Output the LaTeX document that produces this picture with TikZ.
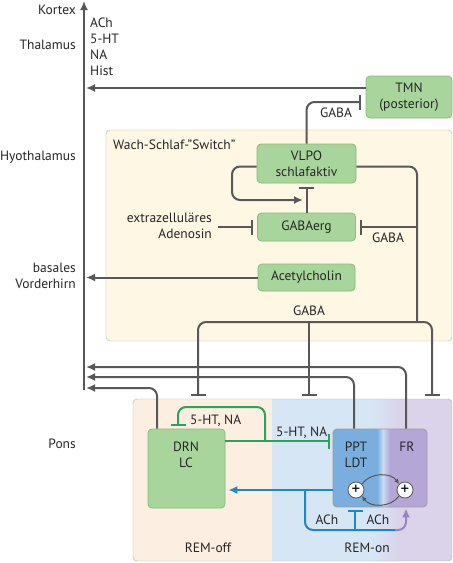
\documentclass[tikz,border=0pt]{standalone}
\usepackage{fontspec}
\setmainfont{PT Sans}
\usetikzlibrary{arrows.meta,positioning,calc}

\definecolor{linegray}{HTML}{58585A}
\definecolor{framegray}{HTML}{B5B0A8}
\definecolor{boxgreen}{HTML}{A8D59C}
\definecolor{boxgreenline}{HTML}{88BB7C}
\definecolor{switchbg}{HTML}{FDF7E4}
\definecolor{offbg}{HTML}{FDEEE2}
\definecolor{onbg}{HTML}{D6E6F5}
\definecolor{frbg}{HTML}{DAD3EA}
\definecolor{pptblue}{HTML}{79AEDF}
\definecolor{pptlight}{HTML}{C9DCF0}
\definecolor{frpurple}{HTML}{B4A6D6}
\definecolor{serotgreen}{HTML}{2BA35A}
\definecolor{achblue}{HTML}{1E87C8}
\definecolor{achpurple}{HTML}{9684C6}

\tikzset{
  lbl/.style={font=\fontsize{13.5}{16}\selectfont, inner sep=0pt, text=black!85},
  nucleus/.style={lbl, draw=boxgreenline, fill=boxgreen, rounded corners=4pt,
    align=center, line width=0.8pt},
  axon/.style={draw=linegray, line width=2pt, rounded corners=8pt},
  excite/.style={axon, -{Latex[length=9pt,width=8pt]}},
  inhib/.style={axon, -{Bar[width=15pt,line width=2pt]}},
  serotinhib/.style={inhib, draw=serotgreen},
  achexcite/.style={excite, draw=achblue},
  achinhib/.style={inhib, draw=achblue},
  plusnode/.style={circle, draw=linegray, fill=white, line width=0.8pt,
    inner sep=0pt, minimum size=16pt, font=\fontsize{17}{17}\selectfont}
}

\begin{document}
\begin{tikzpicture}[x=1pt,y=-1pt]
\useasboundingbox (0,0) rectangle (453,563);

  % background areas
  \draw[framegray, fill=switchbg, rounded corners=4pt] (106,130) rectangle (452,341);

  \begin{scope}
    \clip[rounded corners=4pt] (133,399) rectangle (452,561);
    \fill[offbg] (133,399) rectangle (272,561);
    \fill[onbg] (272,399) rectangle (372,561);
    \shade[left color=onbg, right color=frbg] (372,399) rectangle (400,561);
    \fill[frbg] (400,399) rectangle (452,561);
  \end{scope}
  \draw[framegray, rounded corners=4pt] (133,399) rectangle (452,561);

  \begin{scope}
    \clip[rounded corners=4pt] (333,429) rectangle (427,507);
    \fill[pptblue] (333,429) rectangle (377,507);
    \shade[left color=pptblue, right color=pptlight] (377,429) rectangle (383,507);
    \shade[left color=pptlight, right color=frpurple] (383,429) rectangle (390,507);
    \fill[frpurple] (390,429) rectangle (427,507);
  \end{scope}

  % regions on the left
  \node[lbl, anchor=east] (kortex) at (76,10) {Kortex};
  \node[lbl, anchor=east] (thalamus) at (76,45) {Thalamus};
  \node[lbl, anchor=east] (hypo) at (76,157) {Hyothalamus};
  \node[lbl, anchor=east, align=right] (basal) at (76,276) {basales\\Vorderhirn};
  \node[lbl, anchor=east] (pons) at (76,444) {Pons};
  \node[lbl, anchor=west, align=left] (transmitter) at (90,47) {ACh\\5-HT\\NA\\Hist};

  \node[lbl, anchor=west] (switch) at (113,145) {Wach-Schlaf-"Switch”};
  \node[lbl] (remoff) at (208,548) {REM-off};
  \node[lbl] (remon) at (367,548) {REM-on};

  % nuclei
  \node[nucleus, minimum width=86pt, minimum height=42pt] (tmn) at (409,97) {TMN\\(posterior)};
  \node[nucleus, minimum width=99pt, minimum height=39pt] (vlpo) at (306.5,163.5) {VLPO\\schlafaktiv};
  \node[nucleus, minimum width=98pt, minimum height=28pt] (gabaerg) at (306.5,227) {GABAerg};
  \node[nucleus, minimum width=97pt, minimum height=27pt] (achbox) at (306.5,277.5) {Acetylcholin};
  \node[nucleus, minimum width=77pt, minimum height=79pt] (drn) at (186.5,468.5) {};
  \node[lbl, align=center] (drntext) at (186,455) {DRN\\LC};
  \node[draw=linegray!60, rounded corners=4pt, line width=0.8pt,
        minimum width=94pt, minimum height=78pt] (ppt) at (380,468) {};
  \node[lbl, align=center] (ppttext) at (356,455) {PPT\\LDT};
  \node[lbl] (frtext) at (407,447) {FR};
  \node[plusnode] (plusl) at (356,490) {+};
  \node[plusnode] (plusr) at (405,490) {+};

  \draw[linegray, line width=1pt, -{Latex[length=5pt,width=5pt]}]
    (plusl.north east) to[bend left=55] (plusr.north west);
  \draw[linegray, line width=1pt, -{Latex[length=5pt,width=5pt]}]
    (plusr.south west) to[bend left=55] (plusl.south east);

  % ascending axis
  \coordinate (axbot) at (84,390);
  \coordinate (axtop) at (84,1);
  \coordinate (axin) at (86,0);
  \draw[excite] (axbot) -- (axtop);

  \coordinate (tmnout) at ([yshift=9pt]tmn.west);
  \draw[excite] (tmnout) -- (tmnout -| axin);
  \draw[excite] (achbox.west) -- (achbox.west -| axin);

  % switch
  \coordinate (tmnin) at ([xshift=-5pt,yshift=-5pt]tmn.west);
  \draw[inhib] (vlpo.north) |- (tmnin);
  \node[lbl] (gabatmn) at (336,113) {GABA};

  \coordinate (vlpoout) at ([yshift=-3pt]vlpo.west);
  \draw[excite] (vlpoout) -| (232,200) -- (303,200);
  \draw[inhib] (gabaerg.north) -- ([yshift=-4pt]vlpo.south);

  \node[lbl, anchor=east, align=right] (adeno) at (212,226) {extrazelluläres\\Adenosin};
  \coordinate (adenoout) at ([xshift=6pt]adeno.east);
  \draw[inhib] (adenoout |- gabaerg.west) -- ([xshift=-4pt]gabaerg.west);

  \coordinate (vlpoeast) at ([yshift=-3pt]vlpo.east);
  \coordinate (gababus) at (417,322);
  \draw[axon] (vlpoeast) -| (gababus);
  \draw[inhib] (gababus |- gabaerg.east) -- ([xshift=4pt]gabaerg.east);
  \node[lbl] (gababack) at (388,238) {GABA};

  % GABA to the pons
  \coordinate (barl) at (198,396);
  \coordinate (barm) at (309,396);
  \coordinate (barr) at (432,396);
  \draw[inhib] (gababus) -| (barl);
  \draw[inhib] (gababus) -| (barr);
  \draw[inhib] (gababus -| barm) -- (barm);
  \node[lbl] (gabapons) at (309,311) {GABA};

  % pons back to the axis
  \coordinate (frtop) at ([xshift=26pt]ppt.north);
  \coordinate (ppttop) at ([xshift=-26pt]ppt.north);
  \coordinate (drntop) at ([xshift=-29.5pt]drn.north);
  \draw[excite] (frtop) |- (axin |- 0,367);
  \draw[excite] (ppttop) |- (axin |- 0,377);
  \draw[excite] (drntop) |- (axin |- 0,388);

  % REM-off
  \coordinate (drnout) at ([yshift=27.5pt]drn.east);
  \coordinate (drnin) at ([xshift=-8.5pt,yshift=3pt]drn.north);
  \draw[serotinhib] (drnout) -- ($(drnout -| ppt.west)+(-3,0)$);
  \draw[serotinhib] (drnout -| 265,0) |- (drnin |- 0,407) -- (drnin);
  \node[lbl, anchor=west] (serotloop) at (190,421) {5-HT, NA};
  \node[lbl, anchor=west] (serotppt) at (276,433) {5-HT, NA};

  % REM-on
  \coordinate (pptout) at ([yshift=-22pt]ppt.west);
  \coordinate (frbot) at ([xshift=26pt,yshift=-1pt]ppt.south);
  \draw[achexcite] (pptout) -- ($(pptout -| drn.east)+(3,0)$);
  \draw[axon, draw=achblue] (pptout -| 305,0) |- (395,530);
  \draw[excite, draw=achpurple] (395,530) -| (frbot);
  \draw[achinhib] (355,530) -- ([xshift=-25pt,yshift=-3pt]ppt.south);
  \node[lbl] (achl) at (327,520) {ACh};
  \node[lbl] (achr) at (378,520) {ACh};

\end{tikzpicture}
\end{document}
